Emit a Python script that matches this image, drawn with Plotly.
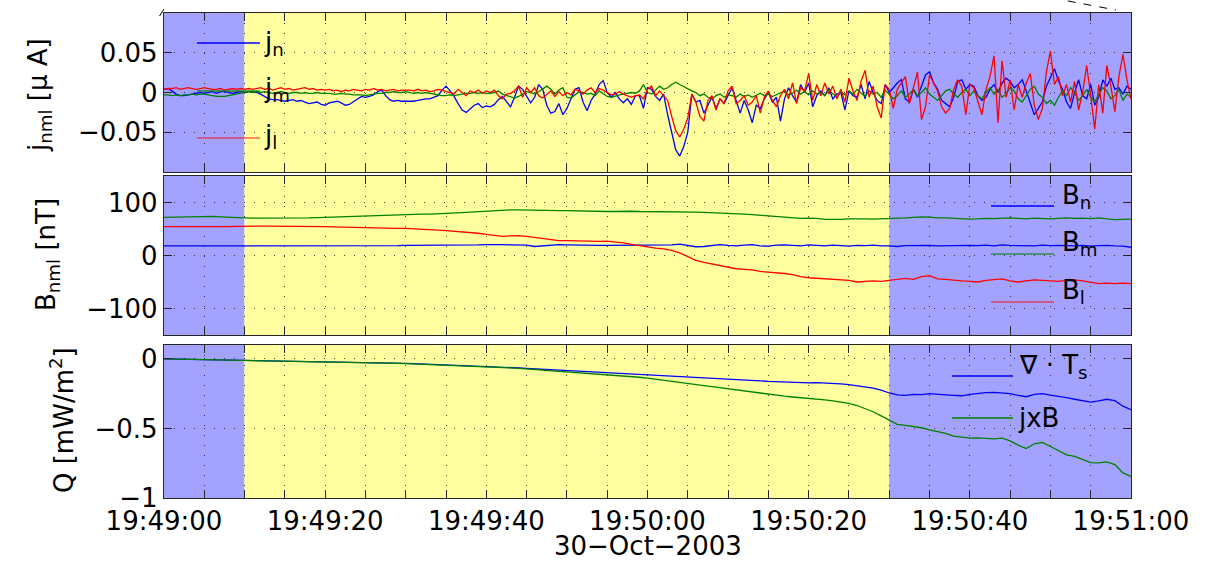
import numpy as np
import pandas as pd
import plotly.graph_objects as go

# ---------------------------------------------------------------- data
# current density components [uA], 0.5 s cadence from 19:49:00
j_n = [
    0.004, 0.005, 0.002, -0.002, -0.004, -0.004, -0.003, -0.002, -0.001, 0.000, -0.001,
    0.000, 0.001, -0.001, 0.001, 0.001, 0.000, -0.001, 0.000, 0.001, 0.000,
    0.001, 0.001, 0.000, -0.002, -0.005, -0.008, -0.009, -0.009, -0.010, -0.011,
    -0.010, -0.009, -0.011, -0.010, -0.012, -0.014, -0.013, -0.012, -0.015, -0.016,
    -0.013, -0.012, -0.011, -0.013, -0.016, -0.015, -0.012, -0.008, -0.005, -0.006,
    -0.005, -0.003, 0.001, 0.003, -0.004, -0.009, -0.011, -0.010, -0.011, -0.011,
    -0.011, -0.011, -0.010, -0.009, -0.008, -0.008, -0.006, -0.004, 0.003, 0.008,
    0.002, -0.005, -0.014, -0.022, -0.025, -0.020, -0.016, -0.014, -0.019, -0.017,
    -0.018, -0.015, -0.009, -0.005, -0.012, -0.018, -0.006, 0.008, 0.004, -0.004,
    -0.013, -0.006, 0.010, 0.004, -0.016, -0.026, -0.024, -0.014, -0.028, -0.020,
    -0.008, 0.004, 0.006, -0.012, -0.023, -0.010, -0.002, 0.010, 0.015, 0.000,
    -0.006, 0.000, -0.008, -0.013, -0.008, -0.015, -0.004, -0.004, -0.020, 0.006,
    0.004, -0.005, -0.010, -0.002, -0.028, -0.052, -0.072, -0.080, -0.068, -0.050,
    -0.002, -0.012, -0.010, -0.026, -0.016, -0.006, -0.020, -0.008, -0.014, -0.004,
    0.006, -0.010, -0.026, -0.010, -0.022, -0.038, -0.016, -0.020, -0.008, 0.000,
    -0.012, -0.006, -0.036, -0.008, 0.006, -0.004, -0.012, 0.010, 0.000, 0.012,
    -0.018, -0.004, 0.002, -0.004, 0.006, -0.008, -0.002, 0.000, -0.022, 0.002,
    -0.004, -0.006, 0.010, -0.008, 0.014, 0.000, -0.010, -0.014, 0.010, 0.000,
    0.006, 0.012, 0.016, -0.008, -0.012, 0.004, -0.006, 0.008, 0.022, 0.026,
    0.012, 0.004, -0.010, -0.014, -0.018, -0.006, 0.014, 0.016, 0.004, 0.010,
    0.008, -0.004, -0.010, -0.006, 0.004, 0.010, 0.000, 0.012, 0.018, 0.014,
    0.006, 0.010, 0.016, 0.002, -0.014, -0.028, -0.020, -0.012, 0.008, 0.020,
    0.030, 0.014, 0.004, -0.012, -0.020, 0.000, 0.016, -0.004, -0.008, 0.010,
    -0.016, -0.006, 0.016, 0.008, 0.018, 0.004, 0.006, -0.002, 0.008, 0.004,
]
j_m = [
    -0.003, -0.003, -0.004, -0.003, -0.004, -0.003, -0.003, -0.002, -0.003, -0.002, -0.002,
    -0.003, -0.004, -0.005, -0.005, -0.005, -0.004, -0.003, -0.002, -0.001, 0.000,
    0.001, 0.000, 0.001, 0.000, 0.001, 0.000, -0.001, 0.000, 0.001, 0.000,
    -0.001, 0.000, 0.000, -0.001, 0.000, -0.001, -0.001, 0.000, -0.001, -0.001,
    -0.001, -0.002, -0.002, -0.001, -0.002, -0.002, -0.003, -0.003, -0.003, -0.004,
    -0.003, -0.002, -0.001, -0.001, 0.000, 0.000, 0.001, 0.000, 0.000, 0.001,
    0.000, -0.001, 0.000, -0.001, 0.000, -0.001, -0.002, -0.003, -0.004, -0.004,
    -0.003, -0.004, -0.003, -0.002, -0.001, -0.001, 0.000, -0.001, 0.000, -0.001,
    -0.001, 0.000, 0.002, -0.002, -0.004, -0.006, -0.007, -0.005, -0.002, 0.001,
    0.000, -0.002, 0.001, 0.004, 0.008, 0.004, -0.002, 0.003, 0.006, -0.006,
    -0.007, -0.003, 0.001, 0.000, -0.002, -0.001, -0.004, 0.002, -0.001, -0.005,
    -0.006, -0.004, -0.003, -0.002, -0.001, 0.000, -0.001, 0.002, 0.010, 0.000,
    -0.002, 0.003, 0.008, 0.004, 0.006, 0.010, 0.013, 0.010, 0.007, 0.004,
    0.002, 0.000, -0.004, -0.002, -0.006, -0.008, -0.004, -0.002, -0.006, -0.003,
    -0.004, -0.006, -0.002, -0.005, -0.003, -0.006, -0.004, -0.001, -0.004, -0.002,
    -0.005, -0.003, -0.001, 0.002, -0.003, -0.001, 0.003, -0.002, 0.001, -0.003,
    0.002, -0.002, 0.000, -0.004, 0.003, -0.001, -0.006, 0.001, -0.003, 0.002,
    -0.002, 0.004, -0.001, -0.005, 0.002, -0.002, 0.000, -0.006, 0.003, -0.002,
    -0.008, -0.004, 0.002, -0.006, -0.002, 0.004, -0.004, 0.000, 0.006, -0.002,
    -0.006, -0.010, -0.004, 0.002, 0.004, -0.002, -0.006, 0.000, 0.004, -0.004,
    0.002, -0.004, -0.008, 0.000, 0.006, -0.002, 0.004, -0.006, -0.002, 0.006,
    0.002, -0.008, -0.012, -0.004, 0.004, 0.008, -0.002, -0.006, -0.014, -0.010,
    -0.016, -0.006, 0.002, -0.004, 0.006, 0.000, -0.010, -0.004, 0.004, -0.006,
    -0.012, -0.002, 0.006, 0.002, -0.008, -0.004, 0.004, -0.010, -0.002, -0.006,
]
j_l = [
    0.004, 0.005, 0.005, 0.006, 0.004, 0.005, 0.006, 0.005, 0.004, 0.005, 0.006,
    0.005, 0.004, 0.004, 0.005, 0.003, 0.004, 0.005, 0.004, 0.005, 0.004,
    0.005, 0.004, 0.005, 0.006, 0.004, 0.005, 0.003, 0.005, 0.006, 0.004,
    0.005, 0.003, 0.004, 0.005, 0.006, 0.004, 0.005, 0.003, 0.004, 0.003,
    0.004, 0.002, 0.003, 0.001, 0.003, 0.002, 0.004, 0.003, 0.002, 0.004,
    0.003, 0.005, 0.003, 0.004, 0.002, 0.003, 0.004, 0.002, 0.003, 0.003,
    0.003, 0.002, 0.004, 0.002, 0.003, 0.001, 0.002, 0.004, 0.003, 0.001,
    0.000, -0.002, 0.004, 0.000, -0.004, 0.002, 0.000, 0.003, -0.001, 0.002,
    0.000, 0.003, -0.004, -0.008, -0.002, -0.001, 0.002, 0.008, -0.006, 0.006,
    0.000, 0.006, -0.004, -0.007, -0.002, 0.002, -0.005, 0.001, -0.004, 0.000,
    -0.003, 0.004, 0.002, -0.002, 0.003, 0.006, 0.000, 0.005, 0.003, 0.000,
    -0.003, -0.002, 0.001, -0.002, -0.004, -0.006, -0.004, -0.003, -0.008, 0.004,
    0.008, -0.004, 0.002, -0.004, -0.010, -0.030, -0.048, -0.056, -0.046, -0.032,
    -0.002, -0.012, -0.030, -0.036, -0.010, -0.004, -0.022, -0.008, -0.014, 0.002,
    0.008, -0.014, -0.010, -0.004, -0.016, -0.012, -0.004, -0.026, -0.006, 0.002,
    -0.010, -0.018, -0.004, 0.004, -0.008, 0.012, -0.014, 0.006, 0.002, 0.024,
    -0.010, 0.010, -0.004, 0.012, -0.002, 0.008, -0.008, 0.004, -0.012, 0.018,
    0.002, -0.010, 0.014, 0.028, -0.006, 0.008, -0.018, -0.032, 0.010, 0.004,
    -0.020, 0.004, 0.012, 0.020, -0.014, 0.008, 0.026, -0.034, -0.018, 0.022,
    0.012, 0.002, -0.018, -0.026, -0.020, 0.004, 0.016, 0.008, -0.028, 0.010,
    0.006, -0.012, -0.028, 0.004, 0.020, 0.046, -0.038, 0.040, -0.006, 0.016,
    -0.022, 0.010, -0.006, 0.012, 0.024, -0.016, -0.034, -0.020, 0.026, 0.052,
    0.010, 0.020, -0.004, 0.010, -0.012, 0.014, -0.022, 0.000, 0.034, -0.004,
    -0.046, 0.010, -0.026, 0.034, 0.008, -0.024, 0.020, 0.048, 0.016, -0.008,
]

# magnetic field components [nT], 1 s cadence
B_n = [
    18, 18, 18, 18, 17.5, 17.5, 17.5, 17.5, 17.5, 17.5, 17.5,
    17.5, 17.5, 17.5, 18, 18, 18, 18, 18, 18.5, 18.5,
    18.5, 18, 18, 18, 18.5, 18.5, 18.5, 18.5, 18.5, 19,
    19, 19, 19, 19, 19, 19, 19.5, 19.5, 20, 20.5,
    21, 20.5, 20, 19.5, 19.5, 17, 18.5, 20, 20.5, 20,
    19.5, 19, 19, 19, 19, 19, 19, 19, 19.5, 19.5,
    20, 19.5, 20, 21.5, 19, 16.5, 17, 19, 20.5, 19,
    18, 19.5, 20.5, 18, 17.5, 19.5, 20, 19, 18, 20,
    19, 18, 19.5, 18.5, 17.5, 19, 18.5, 19.5, 18, 18,
    17, 18.5, 19, 18.5, 19, 18, 18.5, 18, 19, 19,
    18.5, 19.5, 18, 20, 19, 18.5, 19, 18, 19.5, 18.5,
    19, 18.5, 18, 19, 17.5, 18.5, 19, 18, 17.5, 15.5,
]
B_m = [
    72, 72.5, 73, 73.5, 74, 74.5, 74, 73, 72, 71.5, 71,
    70.5, 70.5, 70, 70, 70, 70, 70.5, 71, 71.5, 72,
    72.5, 73, 73.5, 74, 74.5, 75.5, 76, 76.5, 77.5, 78,
    78, 78, 78, 78.5, 79, 80, 81, 82, 83, 84,
    85, 85.5, 86, 86, 85.5, 85, 84.5, 84.5, 84.5, 84.5,
    84, 84, 83.5, 83.5, 83, 83, 83.5, 83.5, 83, 83,
    83, 82.5, 82.5, 82, 82, 82, 81.5, 81, 80.5, 80,
    79, 78, 77, 76, 75, 74, 72.5, 71, 70, 70.5,
    70, 68, 67.5, 68, 69, 69.5, 69, 68.5, 69, 69,
    70, 71, 72, 73, 72.5, 71, 71, 70, 69, 68.5,
    69, 70, 69.5, 70, 71, 70, 69, 70.5, 70, 69,
    70, 71, 70, 70.5, 69.5, 71, 69, 67.5, 68, 68.5,
]
B_l = [
    54.5, 54.5, 54, 54, 53.5, 53.5, 53.5, 54, 54.5, 55, 55.5,
    55.5, 55.5, 55.5, 55.5, 55.5, 55.5, 55.5, 55, 55, 54.5,
    54, 53.5, 53, 52.5, 52, 51.5, 51, 51, 51, 51,
    50.5, 50, 49, 48, 47, 46, 45, 43.5, 42, 40,
    37.5, 36, 37, 37.5, 36, 34, 31.5, 29, 28, 28,
    27.5, 26.5, 26, 26.5, 27, 26, 24, 21, 18.5, 16,
    14, 12.5, 9.5, 5, -2, -9, -13, -16, -19, -22,
    -25, -26, -27, -30, -31, -32, -34, -36, -40, -42,
    -43, -44, -45, -46, -47, -50, -49, -48, -49, -47,
    -46, -43, -45, -40, -38, -44, -45, -47, -48, -49,
    -50, -47, -45, -44, -48, -50, -48, -46, -47, -48,
    -49, -47, -46, -48, -51, -53, -52, -53, -52, -53,
]

# energy conversion terms [mW/m^2], 1 s cadence
Q_divT = [
    0.000, -0.001, -0.002, -0.003, -0.004, -0.005, -0.006, -0.007, -0.008, -0.009, -0.010,
    -0.010, -0.011, -0.011, -0.012, -0.012, -0.013, -0.014, -0.015, -0.016, -0.017,
    -0.018, -0.019, -0.020, -0.021, -0.022, -0.024, -0.026, -0.028, -0.030, -0.032,
    -0.034, -0.036, -0.038, -0.040, -0.042, -0.044, -0.046, -0.048, -0.050, -0.053,
    -0.056, -0.059, -0.062, -0.065, -0.068, -0.071, -0.074, -0.077, -0.080, -0.083,
    -0.086, -0.089, -0.092, -0.095, -0.098, -0.101, -0.104, -0.107, -0.110, -0.113,
    -0.116, -0.120, -0.124, -0.128, -0.130, -0.132, -0.135, -0.138, -0.140, -0.143,
    -0.146, -0.150, -0.154, -0.158, -0.162, -0.165, -0.167, -0.169, -0.172, -0.173,
    -0.170, -0.172, -0.176, -0.180, -0.185, -0.192, -0.200, -0.210, -0.225, -0.245,
    -0.258, -0.262, -0.255, -0.257, -0.250, -0.252, -0.258, -0.262, -0.265, -0.255,
    -0.248, -0.242, -0.240, -0.245, -0.250, -0.262, -0.272, -0.255, -0.250, -0.260,
    -0.268, -0.278, -0.290, -0.300, -0.310, -0.302, -0.290, -0.300, -0.340, -0.365,
]
Q_jxB = [
    0.000, -0.001, -0.002, -0.003, -0.004, -0.005, -0.006, -0.007, -0.008, -0.009, -0.010,
    -0.011, -0.011, -0.012, -0.013, -0.013, -0.014, -0.015, -0.016, -0.017, -0.018,
    -0.019, -0.020, -0.021, -0.022, -0.024, -0.026, -0.028, -0.030, -0.032, -0.034,
    -0.036, -0.038, -0.040, -0.042, -0.044, -0.046, -0.048, -0.050, -0.053, -0.056,
    -0.059, -0.062, -0.065, -0.068, -0.072, -0.076, -0.080, -0.084, -0.088, -0.092,
    -0.096, -0.100, -0.104, -0.108, -0.112, -0.117, -0.122, -0.127, -0.132, -0.138,
    -0.145, -0.152, -0.160, -0.168, -0.176, -0.184, -0.192, -0.200, -0.208, -0.216,
    -0.224, -0.232, -0.240, -0.248, -0.255, -0.262, -0.268, -0.274, -0.278, -0.282,
    -0.288, -0.295, -0.302, -0.310, -0.320, -0.335, -0.355, -0.380, -0.410, -0.440,
    -0.470, -0.478, -0.485, -0.495, -0.510, -0.520, -0.535, -0.555, -0.565, -0.570,
    -0.568, -0.572, -0.575, -0.570, -0.590, -0.620, -0.645, -0.610, -0.600, -0.630,
    -0.660, -0.690, -0.700, -0.720, -0.745, -0.748, -0.740, -0.760, -0.820, -0.845,
]

# background intervals (start, end, colour)
shade_start = ["2003-10-30 19:49:00", "2003-10-30 19:49:10", "2003-10-30 19:50:30"]
shade_end = ["2003-10-30 19:49:10", "2003-10-30 19:50:30", "2003-10-30 19:51:00"]
shade_color = ["#a3a3ff", "#ffffa0", "#a3a3ff"]

t_start = pd.Timestamp("2003-10-30 19:49:00")
t_end = pd.Timestamp("2003-10-30 19:51:00")
t_j = t_start + pd.to_timedelta(np.arange(len(j_n)) * 0.5, unit="s")
t_1s = t_start + pd.to_timedelta(np.arange(len(B_n)), unit="s")

BLUE, GREEN, RED = "#0000ff", "#008000", "#ff0000"
FONT = "DejaVu Sans"
FS = 26
INK = "#262626"
GRID = "rgba(20,20,20,0.8)"
GRID_DASH = "1px,9px"

# ---------------------------------------------------------------- layout helpers
W, H = 1211, 563
L, R, T, B = 164, 1131, 13, 498


def px(xp):
    return (xp - L) / (R - L)


def py(yp):
    return (B - yp) / (B - T)


fig = go.Figure()

panels = [
    dict(x="x", y="y", dom=[py(172), 1.0], rng=[-0.1, 0.1],
         tv=[-0.05, 0, 0.05], tt=["\u22120.05", "0", "0.05"]),
    dict(x="x2", y="y2", dom=[py(335), py(176)], rng=[-150, 150],
         tv=[-100, 0, 100], tt=["\u2212100", "0", "100"]),
    dict(x="x3", y="y3", dom=[0.0, py(345)], rng=[-1, 0.1],
         tv=[-1, -0.5, 0], tt=["\u22121", "\u22120.5", "0"]),
]

series = [
    (0, t_j, j_n, BLUE), (0, t_j, j_m, GREEN), (0, t_j, j_l, RED),
    (1, t_1s, B_n, BLUE), (1, t_1s, B_m, GREEN), (1, t_1s, B_l, RED),
    (2, t_1s, Q_divT, BLUE), (2, t_1s, Q_jxB, GREEN),
]
for p, tt, vals, col in series:
    fig.add_trace(go.Scatter(
        x=tt, y=vals, mode="lines", xaxis=panels[p]["x"], yaxis=panels[p]["y"],
        line=dict(color=col, width=1.3), showlegend=False, hoverinfo="skip"))

tick_times = pd.date_range(t_start, t_end, freq="5s")
tick_text = [d.strftime("%H:%M:%S") if d.second % 20 == 0 else "" for d in tick_times]

shapes = []
for i, pnl in enumerate(panels):
    xa = "xaxis" if i == 0 else f"xaxis{i + 1}"
    ya = "yaxis" if i == 0 else f"yaxis{i + 1}"
    fig.layout[xa] = dict(
        domain=[0, 1], anchor=pnl["y"], range=[t_start, t_end], type="date",
        tickvals=list(tick_times), ticktext=tick_text if i == 2 else [""] * len(tick_times),
        showticklabels=(i == 2), ticks="inside", ticklen=8, tickwidth=1.3,
        tickcolor=INK, showline=True, linecolor=INK, linewidth=1.3, mirror="ticks",
        showgrid=True, gridcolor=GRID, gridwidth=1, griddash=GRID_DASH,
        zeroline=False, tickfont=dict(family=FONT, size=FS, color="black"),
        matches=None if i == 0 else "x",
    )
    fig.layout[ya] = dict(
        domain=pnl["dom"], anchor=pnl["x"], range=pnl["rng"],
        tickvals=pnl["tv"], ticktext=pnl["tt"], ticks="inside", ticklen=8,
        tickwidth=1.3, tickcolor=INK, showline=True, linecolor=INK, linewidth=1.3,
        mirror="ticks", showgrid=True, gridcolor=GRID, gridwidth=1,
        griddash=GRID_DASH, zeroline=False,
        tickfont=dict(family=FONT, size=FS, color="black"),
    )
    for s0, s1, c in zip(shade_start, shade_end, shade_color):
        shapes.append(dict(type="rect", xref=pnl["x"], yref=pnl["y"] + " domain",
                           x0=s0, x1=s1, y0=0, y1=1, fillcolor=c,
                           line=dict(width=0), layer="below"))

# legend keys (line samples) drawn in paper space
legend_keys = [
    (197, 260, 43, BLUE, 1.0), (197, 260, 91, GREEN, 0.8), (197, 260, 138, RED, 0.6),
    (991, 1054, 206, BLUE, 1.0), (991, 1054, 254, GREEN, 0.7), (991, 1054, 302, RED, 0.6),
    (952, 1013, 376, BLUE, 1.0), (952, 1013, 418, GREEN, 1.0),
]
for x0, x1, yy, col, op in legend_keys:
    shapes.append(dict(type="line", xref="paper", yref="paper", x0=px(x0), x1=px(x1),
                       y0=py(yy), y1=py(yy), line=dict(color=col, width=1.5),
                       opacity=op))

# stray marks along the top frame
shapes.append(dict(type="line", xref="paper", yref="paper", x0=px(159.5), x1=px(164),
                   y0=py(16), y1=py(9), line=dict(color="black", width=1)))
shapes.append(dict(type="line", xref="paper", yref="paper", x0=px(1052), x1=px(1116),
                   y0=py(-2), y1=py(10), line=dict(color="black", width=1, dash="8px,8px")))
fig.update_layout(shapes=shapes)

annotations = []
legend_labels = [
    ("j<sub>n</sub>", 262, 43), ("j<sub>m</sub>", 262, 89), ("j<sub>l</sub>", 262, 136),
    ("B<sub>n</sub>", 1060, 196), ("B<sub>m</sub>", 1060, 243), ("B<sub>l</sub>", 1060, 291),
    ("\u2207 \u00b7 T<sub>s</sub>", 1017, 366), ("jxB", 1016, 418),
]
for txt, xx, yy in legend_labels:
    annotations.append(dict(text=txt, xref="paper", yref="paper", x=px(xx), y=py(yy),
                            xanchor="left", yanchor="middle", showarrow=False,
                            font=dict(family=FONT, size=FS, color="black")))

ytitles = [
    ("j<sub>nml</sub> [\u03bc A]", 40, 95),
    ("B<sub>nml</sub> [nT]", 47, 255),
    ("Q [mW/m<sup>2</sup>]", 62, 420),
]
for txt, xx, yy in ytitles:
    annotations.append(dict(text=txt, xref="paper", yref="paper", x=px(xx), y=py(yy),
                            xanchor="center", yanchor="middle", textangle=-90,
                            showarrow=False, font=dict(family=FONT, size=FS, color="black")))

annotations.append(dict(text="30\u2212Oct\u22122003", xref="paper", yref="paper",
                        x=px(648), y=py(546), xanchor="center", yanchor="middle",
                        showarrow=False, font=dict(family=FONT, size=FS, color="black")))
fig.update_layout(annotations=annotations)

fig.update_layout(
    width=W, height=H,
    margin=dict(l=L, r=W - R, t=T, b=H - B, pad=0),
    paper_bgcolor="white", plot_bgcolor="white",
    font=dict(family=FONT, size=FS, color="black"),
    showlegend=False,
)

fig.write_html("out.html")
